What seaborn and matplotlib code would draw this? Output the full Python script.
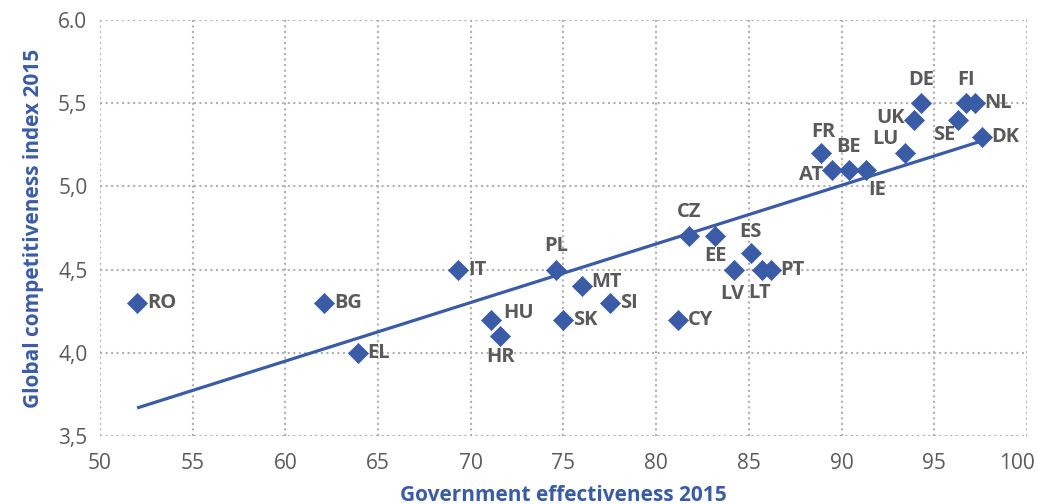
"""
Government effectiveness vs global competitiveness index, EU member states 2015.
"""

import matplotlib.pyplot as plt
import matplotlib.transforms as mtransforms
import pandas as pd
import seaborn as sns

countries = ['RO', 'BG', 'EL', 'IT', 'HU', 'HR', 'PL', 'MT', 'SK', 'SI', 'CY',
             'CZ', 'EE', 'ES', 'LV', 'LT', 'PT', 'FR', 'AT', 'BE', 'IE', 'LU',
             'UK', 'DE', 'SE', 'FI', 'NL', 'DK']
gov_eff = [52.0, 62.1, 63.9, 69.3, 71.1, 71.6, 74.6, 76.0, 75.0, 77.5, 81.2,
           81.8, 83.2, 85.1, 84.2, 85.7, 86.2, 88.9, 89.5, 90.4, 91.3, 93.4,
           93.9, 94.3, 96.3, 96.7, 97.2, 97.6]
gci = [4.3, 4.3, 4.0, 4.5, 4.2, 4.1, 4.5, 4.4, 4.2, 4.3, 4.2,
       4.7, 4.7, 4.6, 4.5, 4.5, 4.5, 5.2, 5.1, 5.1, 5.1, 5.2,
       5.4, 5.5, 5.4, 5.5, 5.5, 5.3]
x_ticks = [50, 55, 60, 65, 70, 75, 80, 85, 90, 95, 100]
y_ticks = [3.5, 4.0, 4.5, 5.0, 5.5, 6.0]
y_tick_labels = ['3,5', '4,0', '4,5', '5,0', '5,5', '6.0']

BLUE = '#3a5ca6'
GREY = '#5a5a5a'

# label placement: offset in pixels, horizontal alignment
label_pos = {
    'RO': (10, 0, 'left'), 'BG': (10, 0, 'left'), 'EL': (10, 0, 'left'),
    'IT': (10, 0, 'left'), 'HU': (12, 7, 'left'), 'HR': (0, -21, 'center'),
    'PL': (0, 24, 'center'), 'MT': (9, 4, 'left'), 'SK': (10, 0, 'left'),
    'SI': (10, 0, 'left'), 'CY': (10, 0, 'left'), 'CZ': (0, 24, 'center'),
    'EE': (0, -20, 'center'), 'ES': (0, 21, 'center'), 'LV': (-2, -24, 'center'),
    'LT': (-2, -23, 'center'), 'PT': (9, 0, 'left'), 'FR': (2, 21, 'center'),
    'AT': (-9, -5, 'right'), 'BE': (0, 23, 'center'), 'IE': (12, -20, 'center'),
    'LU': (-19, 14, 'center'), 'UK': (-9, 2, 'right'), 'DE': (0, 23, 'center'),
    'SE': (-14, -15, 'center'), 'FI': (0, 23, 'center'), 'NL': (9, 0, 'left'),
    'DK': (9, 0, 'left'),
}

df = pd.DataFrame({'country': countries, 'gov_eff': gov_eff, 'gci': gci})

sns.set_style('white')
plt.rcParams['font.family'] = ['Open Sans', 'DejaVu Sans']

fig = plt.figure(figsize=(10.38, 5.04), dpi=100)
ax = fig.add_axes([0.0963, 0.135, 0.893, 0.825])

sns.regplot(data=df, x='gov_eff', y='gci', scatter=False, ci=None, ax=ax,
            line_kws={'color': BLUE, 'lw': 2.3, 'solid_capstyle': 'butt'})
sns.scatterplot(data=df, x='gov_eff', y='gci', marker='D', s=105, color=BLUE,
                edgecolor=BLUE, linewidth=0.5, ax=ax, zorder=3)

for c, x, y in zip(countries, gov_eff, gci):
    dx, dy, ha = label_pos[c]
    ax.annotate(c, (x, y), xytext=(dx, dy), textcoords='offset pixels',
                ha=ha, va='center', fontsize=14.5, fontweight='bold', color=GREY)

ax.set_xlim(50, 100)
ax.set_ylim(3.5, 6.0)
ax.set_xticks(x_ticks)
ax.set_yticks(y_ticks)
ax.set_yticklabels(y_tick_labels)
ax.tick_params(axis='both', length=0, labelsize=15, labelcolor=GREY)
ax.tick_params(axis='x', pad=12)
ax.tick_params(axis='y', pad=9)
ax.grid(True, linestyle=':', color='#b0b0b0', lw=1.5)
for s in ax.spines.values():
    s.set_visible(False)

# pull the last x tick label a bit inward, as in the source
shift = mtransforms.ScaledTranslation(-10 / 100, 0, fig.dpi_scale_trans)
last = ax.get_xticklabels()[-1]
last.set_transform(last.get_transform() + shift)

ax.set_xlabel('Government effectiveness 2015', color=BLUE, fontsize=15,
              fontweight='bold', labelpad=8)
ax.set_ylabel('Global competitiveness index 2015', color=BLUE, fontsize=15,
              fontweight='bold', labelpad=10)

plt.savefig('out.png', dpi=100)
